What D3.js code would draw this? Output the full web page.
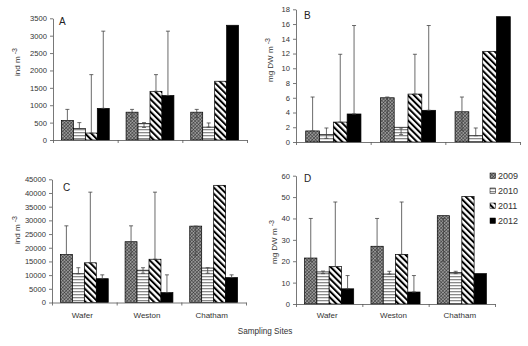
<!DOCTYPE html>
<html>
<head>
<meta charset="utf-8">
<script src="https://cdn.jsdelivr.net/npm/d3@7"></script>
<style>
  body { margin: 0; background: #fff; }
  svg { display: block; font-family: "Liberation Sans", Arial, sans-serif; }
  .axis path, .axis line { stroke: #555; stroke-width: 0.8; }
  .axis text { fill: #333; font-size: 7.6px; }
</style>
</head>
<body>
<svg id="chart" width="528" height="346"></svg>
<script>
// sites et années
const sites = ["Wafer", "Weston", "Chatham"];
const years = ["2009", "2010", "2011", "2012"];

// A : abondance (ind m-3), une ligne par site
const abundA = [[560, 330, 200, 910], [800, 470, 1400, 1280], [800, 370, 1690, 3300]];
const abundAHigh = [[880, 500, 1880, 3130], [880, 500, 1880, 3130], [880, 490, 1690, 3300]];
const abundALow = [[560, 330, 200, 910], [650, 360, 1400, 1280], [650, 370, 1690, 3300]];
const ticksA = [0, 500, 1000, 1500, 2000, 2500, 3000, 3500];

// B : biomasse (mg DW m-3)
const biomB = [[1.5, 1.0, 2.7, 3.8], [6.0, 2.0, 6.5, 4.3], [4.1, 0.85, 12.3, 17.0]];
const biomBHigh = [[6.1, 1.9, 11.9, 15.8], [6.1, 1.9, 11.9, 15.8], [6.1, 1.9, 12.3, 17.0]];
const biomBLow = [[1.5, 0.5, 2.7, 3.8], [1.6, 1.0, 6.5, 4.3], [1.6, 0.85, 12.3, 17.0]];
const ticksB = [0, 2, 4, 6, 8, 10, 12, 14, 16, 18];

// C : abondance (ind m-3)
const abundC = [[17500, 10500, 14500, 8700], [22200, 11800, 15800, 3600], [27900, 12600, 42800, 9100]];
const abundCHigh = [[28000, 12700, 40300, 10100], [28000, 12700, 40300, 10100], [27900, 12700, 42800, 10100]];
const abundCLow = [[17500, 10500, 14500, 8700], [17300, 10700, 15800, 3600], [17300, 10700, 42800, 9100]];
const ticksC = [0, 5000, 10000, 15000, 20000, 25000, 30000, 35000, 40000, 45000];

// D : biomasse (mg DW m-3)
const biomD = [[21.5, 15.0, 17.5, 7.1], [27.0, 14.0, 23.2, 5.6], [41.3, 14.7, 50.3, 14.2]];
const biomDHigh = [[40.0, 15.4, 47.7, 13.3], [40.0, 15.3, 47.7, 13.3], [40.0, 15.3, 50.3, 14.2]];
const biomDLow = [[20.0, 14.2, 17.5, 7.1], [20.0, 14.0, 23.2, 5.6], [20.0, 14.2, 50.3, 14.2]];
const ticksD = [0, 10, 20, 30, 40, 50, 60];

const svg = d3.select("#chart");
const defs = svg.append("defs");

// motifs de remplissage
const p09 = defs.append("pattern").attr("id", "p2009")
    .attr("patternUnits", "userSpaceOnUse").attr("width", 2.4).attr("height", 2.4)
    .attr("patternTransform", "rotate(45)");
p09.append("rect").attr("width", 2.4).attr("height", 2.4).attr("fill", "#9a9a9a");
p09.append("path").attr("d", "M0,0H2.4M0,0V2.4").attr("stroke", "#222").attr("stroke-width", 0.9);

const p10 = defs.append("pattern").attr("id", "p2010")
    .attr("patternUnits", "userSpaceOnUse").attr("width", 4).attr("height", 3);
p10.append("rect").attr("width", 4).attr("height", 3).attr("fill", "#fff");
p10.append("rect").attr("width", 4).attr("height", 1.3).attr("fill", "#8a8a8a");

const p11 = defs.append("pattern").attr("id", "p2011")
    .attr("patternUnits", "userSpaceOnUse").attr("width", 4.4).attr("height", 4.4)
    .attr("patternTransform", "rotate(-45)");
p11.append("rect").attr("width", 4.4).attr("height", 4.4).attr("fill", "#fff");
p11.append("rect").attr("width", 2).attr("height", 4.4).attr("fill", "#000");

const fills = { "2009": "url(#p2009)", "2010": "url(#p2010)", "2011": "url(#p2011)", "2012": "#000" };

const panels = [
    { letter: "A", vals: abundA, hi: abundAHigh, lo: abundALow, ticks: ticksA, x0: 53, x1: 247, top: 18.3, zero: 140, letterDx: 6, letterDy: 7, label: "ind m", lx: 20, ly: 62, showSites: false },
    { letter: "B", vals: biomB, hi: biomBHigh, lo: biomBLow, ticks: ticksB, x0: 296, x1: 520, top: 9.3, zero: 142, letterDx: 8, letterDy: 10, label: "mg DW m", lx: 273, ly: 60, showSites: false },
    { letter: "C", vals: abundC, hi: abundCHigh, lo: abundCLow, ticks: ticksC, x0: 52, x1: 246, top: 179.3, zero: 302.5, letterDx: 11, letterDy: 12, label: "ind m", lx: 20, ly: 230, showSites: true },
    { letter: "D", vals: biomD, hi: biomDHigh, lo: biomDLow, ticks: ticksD, x0: 296, x1: 495, top: 175.7, zero: 304, letterDx: 8, letterDy: 6, label: "mg DW m", lx: 277, ly: 242, showSites: true }
];

panels.forEach(p => {
    const g = svg.append("g");

    const x = d3.scaleBand().domain(sites).range([p.x0, p.x1])
        .paddingInner(0.26).paddingOuter(0.13);
    const xYear = d3.scaleBand().domain(years).range([0, x.bandwidth()]);
    const y = d3.scaleLinear()
        .domain([0, p.ticks[p.ticks.length - 1]])
        .range([p.zero, p.top]);

    const rows = [];
    sites.forEach((s, i) => years.forEach((yr, j) => {
        rows.push({ site: s, year: yr, v: p.vals[i][j], hi: p.hi[i][j], lo: p.lo[i][j] });
    }));

    g.selectAll(".bar").data(rows).enter().append("rect")
        .attr("class", "bar")
        .attr("x", d => x(d.site) + xYear(d.year))
        .attr("y", d => y(d.v))
        .attr("width", xYear.bandwidth())
        .attr("height", d => y(0) - y(d.v))
        .attr("fill", d => fills[d.year])
        .attr("stroke", "#000")
        .attr("stroke-width", 0.7);

    // barres d'erreur
    const err = g.selectAll(".err").data(rows.filter(d => d.hi !== d.lo)).enter().append("g")
        .attr("class", "err")
        .attr("stroke", "#444").attr("stroke-width", 0.8);
    const cx = d => x(d.site) + xYear(d.year) + xYear.bandwidth() / 2;
    err.append("line").attr("x1", cx).attr("x2", cx)
        .attr("y1", d => y(d.lo)).attr("y2", d => y(d.hi));
    err.append("line").attr("x1", d => cx(d) - 2).attr("x2", d => cx(d) + 2)
        .attr("y1", d => y(d.hi)).attr("y2", d => y(d.hi));
    err.append("line").attr("x1", d => cx(d) - 2).attr("x2", d => cx(d) + 2)
        .attr("y1", d => y(d.lo)).attr("y2", d => y(d.lo));

    g.append("g").attr("class", "axis")
        .attr("transform", `translate(${p.x0},0)`)
        .call(d3.axisLeft(y).tickValues(p.ticks).tickFormat(d3.format("d"))
            .tickSize(3).tickSizeOuter(0).tickPadding(3));

    const xEdge = d3.scaleLinear().domain([0, sites.length]).range([p.x0, p.x1]);
    g.append("g").attr("class", "axis")
        .attr("transform", `translate(0,${p.zero})`)
        .call(d3.axisBottom(xEdge).tickValues(d3.range(sites.length + 1)).tickFormat("").tickSize(3).tickSizeOuter(0));

    if (p.showSites) {
        g.selectAll(".site").data(sites).enter().append("text")
            .attr("x", d => x(d) + x.bandwidth() / 2 - 2)
            .attr("y", 318)
            .attr("text-anchor", "middle")
            .attr("font-size", "8px")
            .attr("fill", "#333")
            .text(d => d);
    }

    g.append("text")
        .attr("x", p.x0 + p.letterDx)
        .attr("y", p.top + p.letterDy)
        .attr("font-size", "10px")
        .attr("fill", "#222")
        .text(p.letter);

    const yl = g.append("text")
        .attr("transform", `translate(${p.lx},${p.ly}) rotate(-90)`)
        .attr("text-anchor", "middle")
        .attr("font-size", "8px")
        .attr("fill", "#333")
        .text(p.label + " ");
    yl.append("tspan").attr("dy", -3).attr("font-size", "7px").text("-3");
});

svg.append("text")
    .attr("x", 265).attr("y", 334)
    .attr("text-anchor", "middle")
    .attr("font-size", "8.2px")
    .attr("fill", "#333")
    .text("Sampling Sites");

// légende
const legend = svg.append("g").attr("transform", "translate(490,176)");
const item = legend.selectAll("g").data(years).enter().append("g")
    .attr("transform", (d, i) => `translate(0,${i * 15})`);
item.append("rect").attr("x", 0).attr("y", -3).attr("width", 5.5).attr("height", 5.5)
    .attr("fill", d => fills[d]).attr("stroke", "#000").attr("stroke-width", 0.5);
item.append("text").attr("x", 8).attr("y", 3.2)
    .attr("font-size", "9px").attr("fill", "#333").text(d => d);
</script>
</body>
</html>
